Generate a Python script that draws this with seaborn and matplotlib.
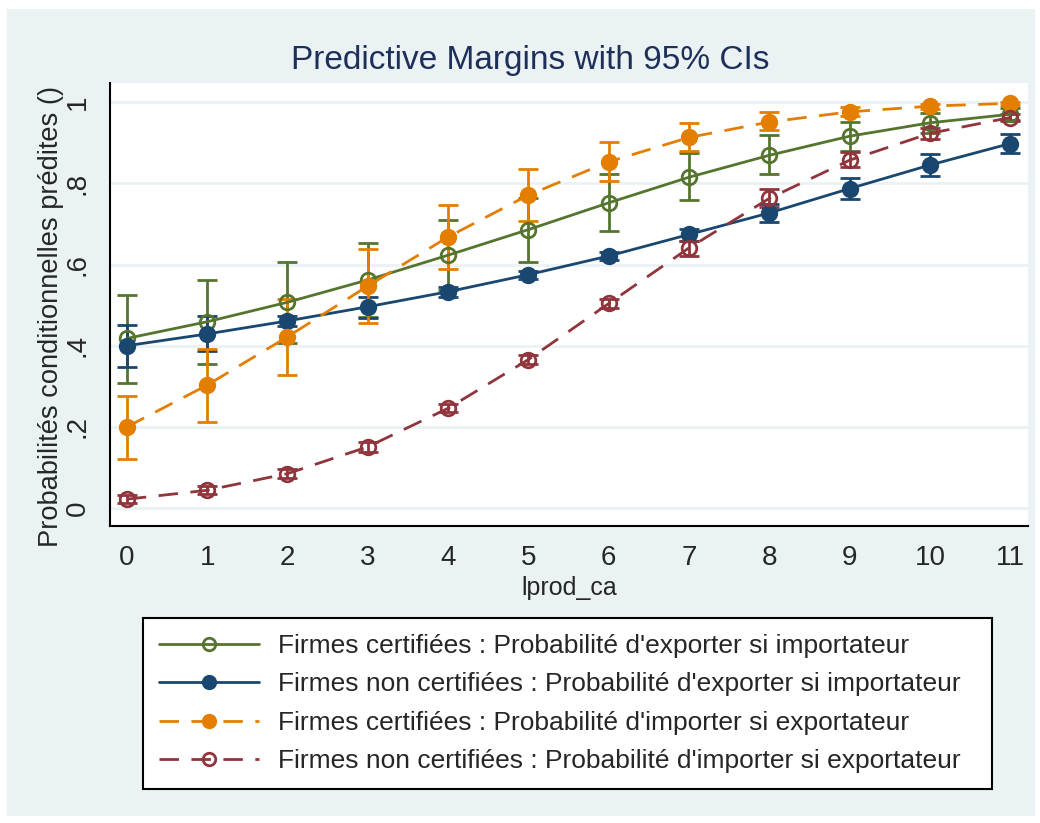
import matplotlib
matplotlib.use("Agg")
import matplotlib.pyplot as plt
import seaborn as sns
import numpy as np
import pandas as pd
from matplotlib.patches import Rectangle
from matplotlib.lines import Line2D

sns.set_theme(style="white")
plt.rcParams['font.family'] = ['Liberation Sans', 'DejaVu Sans']

x_vals = list(range(12))
x_ticks = list(range(12))
y_ticks = [0, 0.2, 0.4, 0.6, 0.8, 1.0]
y_ticklabels = ["0", ".2", ".4", ".6", ".8", "1"]

labels = [
    "Firmes certifiées : Probabilité d'exporter si importateur",
    "Firmes non certifiées : Probabilité d'exporter si importateur",
    "Firmes certifiées : Probabilité d'importer si exportateur",
    "Firmes non certifiées : Probabilité d'importer si exportateur",
]

cert_export = [0.418, 0.459, 0.507, 0.562, 0.623, 0.686, 0.752, 0.815, 0.869, 0.916, 0.949, 0.970]
cert_export_lo = [0.307, 0.354, 0.406, 0.470, 0.537, 0.607, 0.682, 0.759, 0.824, 0.880, 0.925, 0.955]
cert_export_hi = [0.525, 0.563, 0.606, 0.654, 0.709, 0.765, 0.822, 0.875, 0.919, 0.950, 0.972, 0.985]

noncert_export = [0.400, 0.429, 0.461, 0.496, 0.533, 0.575, 0.621, 0.674, 0.727, 0.787, 0.845, 0.898]
noncert_export_lo = [0.348, 0.387, 0.448, 0.469, 0.519, 0.565, 0.611, 0.658, 0.705, 0.761, 0.818, 0.874]
noncert_export_hi = [0.452, 0.473, 0.474, 0.520, 0.545, 0.585, 0.631, 0.688, 0.750, 0.812, 0.872, 0.921]

cert_import = [0.200, 0.303, 0.422, 0.547, 0.668, 0.771, 0.853, 0.913, 0.951, 0.976, 0.990, 0.997]
cert_import_lo = [0.122, 0.213, 0.328, 0.457, 0.588, 0.708, 0.806, 0.880, 0.931, 0.965, 0.984, 0.993]
cert_import_hi = [0.277, 0.391, 0.516, 0.637, 0.746, 0.835, 0.902, 0.948, 0.975, 0.988, 0.996, 1.000]

noncert_import = [0.022, 0.044, 0.085, 0.151, 0.246, 0.366, 0.504, 0.641, 0.763, 0.857, 0.923, 0.962]
noncert_import_lo = [0.012, 0.034, 0.073, 0.138, 0.236, 0.356, 0.494, 0.621, 0.742, 0.839, 0.910, 0.953]
noncert_import_hi = [0.032, 0.054, 0.097, 0.164, 0.256, 0.376, 0.514, 0.658, 0.785, 0.878, 0.936, 0.971]

colors = ["#55752F", "#1A476F", "#E37E00", "#90353B"]
DASH = (0, (7, 4.5))
series = [
    (cert_export, cert_export_lo, cert_export_hi, "-", True),
    (noncert_export, noncert_export_lo, noncert_export_hi, "-", False),
    (cert_import, cert_import_lo, cert_import_hi, DASH, False),
    (noncert_import, noncert_import_lo, noncert_import_hi, DASH, True),
]

BG = "#EAF2F3"
fig = plt.figure(figsize=(10.4, 8.23), dpi=100)
fig.patch.set_facecolor("white")
fig.patches.append(Rectangle((7/1040, 1-816/823), (1035-7)/1040, (816-9)/823,
                             transform=fig.transFigure, facecolor=BG, edgecolor="none", zorder=-10))

ax = fig.add_axes([110/1040, 1-526/823, (1028-110)/1040, (526-83)/823])
ax.set_facecolor("white")

# confidence intervals
for i, (m, lo, hi, ls, hollow) in enumerate(series):
    m = np.array(m); lo = np.array(lo); hi = np.array(hi)
    ax.errorbar(x_vals, m, yerr=[m - lo, hi - m], fmt="none", ecolor=colors[i],
                elinewidth=2, capsize=7, capthick=2, zorder=2 + i * 0.1)

for i, (m, lo, hi, ls, hollow) in enumerate(series):
    df = pd.DataFrame({"x": x_vals, "y": m})
    ms = 10.5 if hollow else 12.5
    sns.lineplot(data=df, x="x", y="y", ax=ax, color=colors[i], linestyle=ls, linewidth=2,
                 marker="o", markersize=ms,
                 markerfacecolor="none" if hollow else colors[i],
                 markeredgecolor=colors[i], markeredgewidth=2 if hollow else 0,
                 zorder=3 + i * 0.1, legend=False)

ax.set_xlim(-0.21, 11.22)
ax.set_ylim(-0.044, 1.047)
ax.set_xticks(x_ticks)
ax.set_xticklabels([str(t) for t in x_ticks], fontsize=20)
ax.set_yticks(y_ticks)
ax.set_yticklabels(y_ticklabels, fontsize=20, rotation=90, va="center")
ax.tick_params(axis="both", direction="out", length=8, width=1.3, color="black", pad=6)
ax.grid(False)
for y in y_ticks:
    ax.axhline(y, color=BG, linewidth=2, zorder=0)
for s in ["left", "bottom"]:
    ax.spines[s].set_color("black")
    ax.spines[s].set_linewidth(1.5)
for s in ["top", "right"]:
    ax.spines[s].set_visible(False)

ax.set_xlabel("lprod_ca", fontsize=18, labelpad=3)
ax.set_ylabel("Probabilités conditionnelles prédites ()", fontsize=19.6)
ax.yaxis.set_label_coords((64 - 110) / 918, (526 - 316) / 443)
fig.text(530/1040, 1-60/823, "Predictive Margins with 95% CIs", ha="center", va="center",
         fontsize=24, color="#1E2F5A")

leg_handles = []
for i, (m, lo, hi, ls, hollow) in enumerate(series):
    leg_handles.append(Line2D([0], [0], color=colors[i], linestyle=ls, linewidth=2, marker="o",
                              markersize=9 if hollow else 11,
                              markerfacecolor="none" if hollow else colors[i],
                              markeredgecolor=colors[i], markeredgewidth=2 if hollow else 0))
leg = fig.legend(leg_handles, labels, loc="upper left",
                 bbox_to_anchor=(143/1040, 1-618/823, (992-143)/1040, 0.0), mode="expand",
                 fontsize=19, frameon=True, fancybox=False, framealpha=1, handlelength=3.8,
                 handletextpad=0.7, labelspacing=0.55, borderpad=0.6, borderaxespad=0)
leg.get_frame().set_edgecolor("black")
leg.get_frame().set_linewidth(1.5)
leg.get_frame().set_facecolor("white")

fig.savefig("out.png", dpi=100, facecolor=fig.get_facecolor())
